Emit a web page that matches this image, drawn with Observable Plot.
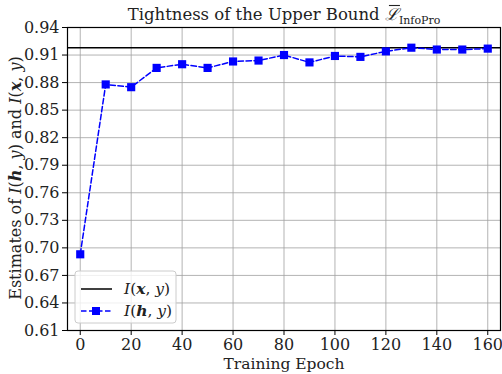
<!DOCTYPE html>
<html><head><meta charset="utf-8">
<script src="https://cdn.jsdelivr.net/npm/d3@7"></script>
<script src="https://cdn.jsdelivr.net/npm/@observablehq/plot@0.6"></script>
<style>body{margin:0;background:#fff}</style>
</head><body><div id="chart"></div>
<script>
const epochs = [0,10,20,30,40,50,60,70,80,90,100,110,120,130,140,150,160];
const infoH = [0.693,0.878,0.875,0.896,0.900,0.896,0.903,0.904,0.910,0.902,0.909,0.908,0.914,0.918,0.916,0.916,0.917];
const infoX = 0.918;
const xTicks = [0,20,40,60,80,100,120,140,160];
const yTicks = [0.61,0.64,0.67,0.70,0.73,0.76,0.79,0.82,0.85,0.88,0.91,0.94];
const titleMain = "Tightness of the Upper Bound ";
const titleSym = "ℒ";
const titleSub = "InfoPro";
const xLabel = "Training Epoch";

const data = epochs.map((e,i)=>({epoch:e, v:infoH[i]}));
const serif = "DejaVu Serif, serif";

const chart = Plot.plot({
  width: 502, height: 374,
  marginLeft: 67, marginRight: 2, marginTop: 27, marginBottom: 44,
  style: {fontFamily: serif, fontSize: "16px", color: "#000", background: "#fff"},
  x: {domain: [-5,165], label: null},
  y: {domain: [0.61,0.94], label: null},
  marks: [
    Plot.gridX(xTicks, {stroke: "#a0a0a0", strokeOpacity: 0.8, strokeWidth: 1}),
    Plot.gridY(yTicks, {stroke: "#a0a0a0", strokeOpacity: 0.8, strokeWidth: 1}),
    Plot.axisX(xTicks, {tickSize: 5, tickPadding: 3, fontSize: 16, fill: "#222", tickFormat: d=>String(d), label: null}),
    Plot.axisY(yTicks, {tickSize: 5, tickPadding: 3, fontSize: 16, fill: "#222", tickFormat: d3.format(".2f"), label: null}),
    Plot.ruleY([infoX], {stroke: "#000", strokeWidth: 1.5}),
    Plot.line(data, {x: "epoch", y: "v", stroke: "#0000ff", strokeWidth: 1.5, strokeDasharray: "5.5,2.5"}),
    Plot.dot(data, {x: "epoch", y: "v", symbol: "square", r: 4.6, fill: "#0000ff", stroke: "none"}),
    Plot.frame({stroke: "#000", strokeWidth: 1.2})
  ]
});
document.getElementById("chart").appendChild(chart);

const svg = d3.select(chart);
// title
const t = svg.append("text").attr("x", 284).attr("y", 20).attr("text-anchor","middle")
  .attr("font-family", serif).attr("font-size", 16.5).attr("fill","#222");
t.append("tspan").text(titleMain);
t.append("tspan").attr("font-style","italic").text(titleSym);
t.append("tspan").attr("font-size", 11).attr("dy", 4).text(titleSub);
// bar over the script L
{
  const node = t.node();
  const idx = titleMain.length;
  const p0 = node.getStartPositionOfChar(idx), p1 = node.getEndPositionOfChar(idx);
  svg.append("line").attr("x1", p0.x + 4).attr("x2", p1.x + 1).attr("y1", 5.5).attr("y2", 5.5)
    .attr("stroke", "#222").attr("stroke-width", 1.1);
}

// x label
svg.append("text").attr("x", 284).attr("y", 369).attr("text-anchor","middle")
  .attr("font-family", serif).attr("font-size", 15.5).attr("fill","#222").text(xLabel);

function mathText(sel, parts){
  parts.forEach(([s,style])=>{
    const ts = sel.append("tspan").text(s);
    if (style.includes("i")) ts.attr("font-style","italic");
    if (style.includes("b")) ts.attr("font-weight","bold");
  });
}
// y label
const yl = svg.append("text").attr("transform","translate(21,178) rotate(-90)").attr("text-anchor","middle")
  .attr("font-family", serif).attr("font-size", 16).attr("fill","#222");
mathText(yl, [["Estimates of ",""],["I","i"],["(",""],["h","bi"],[", ",""],["y","i"],[")",""],[" and ",""],["I","i"],["(",""],["x","bi"],[", ",""],["y","i"],[")",""]]);

// legend
const lg = svg.append("g");
lg.append("rect").attr("x",75).attr("y",271).attr("width",101).attr("height",52).attr("rx",3)
  .attr("fill","#fff").attr("fill-opacity",0.8).attr("stroke","#ccc");
lg.append("line").attr("x1",81).attr("x2",112).attr("y1",289).attr("y2",289).attr("stroke","#000").attr("stroke-width",1.5);
lg.append("line").attr("x1",81).attr("x2",112).attr("y1",311).attr("y2",311).attr("stroke","#0000ff").attr("stroke-width",1.5).attr("stroke-dasharray","5.5,2.5");
lg.append("rect").attr("x",92).attr("y",307).attr("width",8).attr("height",8).attr("fill","#0000ff");
const l1 = lg.append("text").attr("x",124).attr("y",294).attr("text-anchor","start").attr("font-family",serif).attr("font-size",15.5).attr("fill","#222");
mathText(l1, [["I","i"],["(",""],["x","bi"],[", ",""],["y","i"],[")",""]]);
const l2 = lg.append("text").attr("x",124).attr("y",316).attr("text-anchor","start").attr("font-family",serif).attr("font-size",15.5).attr("fill","#222");
mathText(l2, [["I","i"],["(",""],["h","bi"],[", ",""],["y","i"],[")",""]]);
</script></body></html>
